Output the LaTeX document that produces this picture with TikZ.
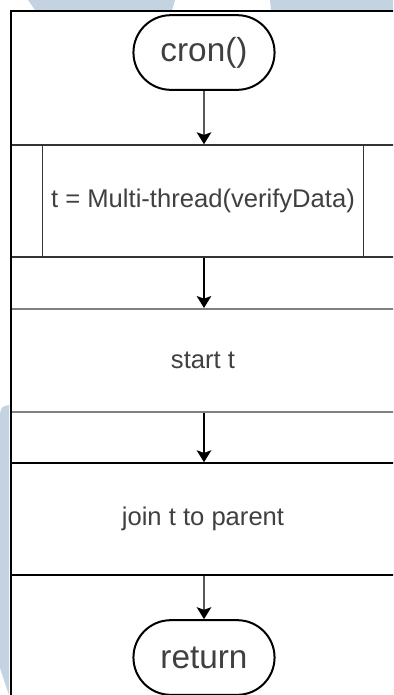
\documentclass[tikz,border=0pt]{standalone}
\usepackage{fontspec}
\setmainfont{Liberation Sans}
\usetikzlibrary{arrows.meta,shapes.misc}

\definecolor{wmblue}{RGB}{195,211,226}
\tikzset{
	terminal/.style={rounded rectangle, draw=black, line width=1.5pt, fill=white,
		minimum width=112.5pt, minimum height=56pt, text=black!75,
		font=\fontsize{25}{28}\selectfont},
	procbox/.style={rectangle, draw=black!80, line width=1.1pt, fill=white,
		minimum width=288pt, text=black!75, font=\fontsize{19.2}{22}\selectfont},
	flow/.style={->, line width=1.1pt}
}

\begin{document}
\begin{tikzpicture}[x=0.75pt, y=-0.75pt, >={Stealth[length=9pt, width=11pt, inset=2pt]}]
		\useasboundingbox (0, 0) rectangle (393, 695);
		\clip (0, 0) rectangle (393, 695);
		\fill[white] (0, 0) rectangle (393, 695);
		
		% watermark pieces behind the chart
		\fill[wmblue] (28, 0) -- (175, 0) -- (172, 10) -- (35, 10) -- cycle;
		\fill[wmblue] (270, 0) -- (393, 0) -- (393, 10) -- (271, 10) -- cycle;
		\fill[wmblue] (0, 415) .. controls (1, 407) .. (9, 405) -- (9, 695) -- (0, 668) -- cycle;
		
		\draw[line width=1.1pt, fill=white] (11, 11) rectangle (395, 720);
		
		\draw node[terminal] at (204, 52.5) (cron) {cron()};
		\draw node[procbox, minimum height=84pt] at (203, 201) (thread) {t = Multi-thread(verifyData)};
		\draw node[procbox, draw=black!50, line width=1.5pt, minimum height=77.25pt] at (203, 360.5) (start) {start t};
		\draw node[procbox, draw=black, minimum height=84pt] at (203, 519) (join) {join t to parent};
		\draw node[terminal] at (204, 657.5) (ret) {return};
		
		\draw[line width=1.1pt, black!80] ([xshift=24pt]thread.north west) -- ([xshift=24pt]thread.south west);
		\draw[line width=1.1pt, black!80] ([xshift=-24pt]thread.north east) -- ([xshift=-24pt]thread.south east);
		\draw[line width=1.5pt] (11, 11) -- (11, 695);
		
		\draw [flow]   (cron)  -- (cron |- thread.north);
		\draw [flow]   (cron |- thread.south) -- (cron |- start.north);
		\draw [flow]   (cron |- start.south) -- (cron |- join.north);
		\draw [flow]   (cron |- join.south) -- (ret);
	\end{tikzpicture}
\end{document}
